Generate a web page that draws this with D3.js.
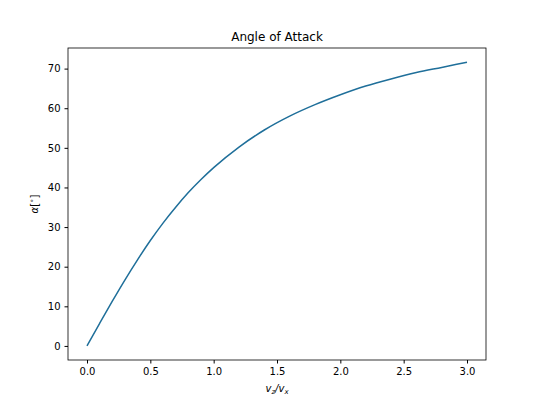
<!DOCTYPE html>
<html><head><meta charset="utf-8">
<script src="https://cdn.jsdelivr.net/npm/d3@7"></script>
<style>body{margin:0;background:#fff}text{font-family:"DejaVu Sans",sans-serif}</style>
</head><body><svg id="c" width="540" height="405"></svg>
<script>
// ratio vz/vx and angle of attack in degrees
var ratio = [0, 0.1, 0.2, 0.3, 0.4, 0.5, 0.6, 0.7, 0.8, 0.9, 1.0, 1.2, 1.4, 1.6, 1.8, 2.0, 2.2, 2.4, 2.6, 2.8, 3.0];
var alpha = [0, 5.7, 11.3, 16.7, 21.8, 26.6, 31.0, 35.0, 38.7, 42.0, 45.0, 50.2, 54.5, 58.0, 60.9, 63.4, 65.6, 67.4, 69.0, 70.3, 71.6];
var xTicks = [0, 0.5, 1.0, 1.5, 2.0, 2.5, 3.0];
var yTicks = [0, 10, 20, 30, 40, 50, 60, 70];

var svg = d3.select("#c");
var L = 68, R = 486, T = 48, B = 360;
var x = d3.scaleLinear().domain([-0.15, 3.15]).range([L, R]);
var y = d3.scaleLinear().domain([-3.55, 75.2]).range([B, T]);

svg.append("g").attr("transform", "translate(0," + B + ")")
    .call(d3.axisBottom(x).tickValues(xTicks).tickFormat(d3.format(".1f")).tickSizeOuter(0).tickSize(3.5).tickPadding(4));
svg.append("g").attr("transform", "translate(" + L + ",0)")
    .call(d3.axisLeft(y).tickValues(yTicks).tickSizeOuter(0).tickSize(3.5).tickPadding(4));
svg.selectAll(".tick text").attr("font-size", 10).attr("fill", "#000");
svg.selectAll(".domain").remove();
svg.append("rect").attr("x", L).attr("y", T).attr("width", R - L).attr("height", B - T)
    .attr("fill", "none").attr("stroke", "#000").attr("stroke-width", 0.8);

svg.append("path").datum(ratio.map(function(d, i) { return [d, alpha[i]]; }))
    .attr("fill", "none").attr("stroke", "#1f6f9a").attr("stroke-width", 1.5)
    .attr("d", d3.line().x(function(d) { return x(d[0]); }).y(function(d) { return y(d[1]); }).curve(d3.curveMonotoneX));

svg.append("text").attr("x", (L + R) / 2).attr("y", 41).attr("text-anchor", "middle").attr("font-size", 12).text("Angle of Attack");
var xl = svg.append("text").attr("x", (L + R) / 2).attr("y", 392).attr("text-anchor", "middle").attr("font-size", 10).attr("font-style", "italic");
xl.append("tspan").text("v");
xl.append("tspan").text("z").attr("font-size", 7).attr("dy", 2);
xl.append("tspan").text("/v").attr("dy", -2);
xl.append("tspan").text("x").attr("font-size", 7).attr("dy", 2);
svg.append("text").attr("transform", "translate(38," + (T + B) / 2 + ") rotate(-90)").attr("text-anchor", "middle")
    .attr("font-size", 10).html('<tspan font-style="italic">α</tspan>[<tspan font-size="7" dy="-4">∘</tspan><tspan dy="4">]</tspan>');
</script></body></html>
